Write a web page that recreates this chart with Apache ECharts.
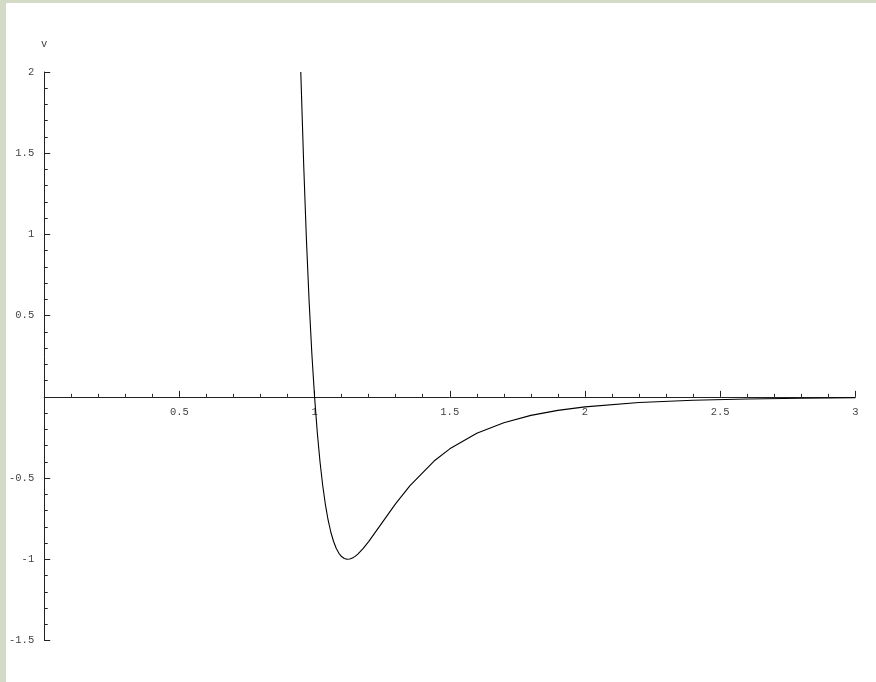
<!DOCTYPE html>
<html>
<head>
<meta charset="utf-8">
<script src="https://cdn.jsdelivr.net/npm/echarts@6/dist/echarts.min.js"></script>
<style>
  html, body { margin: 0; padding: 0; background: #d3dbc7; width: 876px; height: 682px; overflow: hidden; }
  #chart { position: absolute; left: 6px; top: 3px; width: 870px; height: 679px; background: #ffffff; }
</style>
</head>
<body>
<div id="chart"></div>
<script>
// Values
const rValues = [0.949, 0.96, 0.97, 0.98, 0.99, 1.0, 1.01, 1.02, 1.03, 1.04, 1.05, 1.06, 1.07, 1.08, 1.09, 1.10, 1.11, 1.12, 1.13, 1.14, 1.15, 1.16, 1.18, 1.20, 1.25, 1.30, 1.353, 1.442, 1.50, 1.60, 1.70, 1.80, 1.90, 2.0, 2.2, 2.4, 2.6, 2.8, 3.0];
const vValues = [2.0, 1.418, 0.963, 0.582, 0.264, 0.0, -0.218, -0.398, -0.544, -0.663, -0.758, -0.832, -0.889, -0.932, -0.963, -0.983, -0.995, -1.0, -0.998, -0.992, -0.982, -0.968, -0.933, -0.891, -0.774, -0.657, -0.546, -0.395, -0.320, -0.224, -0.159, -0.114, -0.083, -0.0615, -0.035, -0.021, -0.013, -0.0083, -0.0055];
const xTicks = [0.5, 1, 1.5, 2, 2.5, 3];
const yTicks = [-1.5, -1, -0.5, 0.5, 1, 1.5, 2];
const yName = 'v';

const yMin = -1.5, yMax = 2;
const gridH = 568.5;

const chart = echarts.init(document.getElementById('chart'), null, { renderer: 'canvas' });
const labelFont = { fontFamily: 'Liberation Mono', fontSize: 10.5, color: '#444' };
const axisLineStyle = { color: '#222', width: 1 };
const fmt = (list) => (v) => {
  const hit = list.find(t => Math.abs(t - v) < 1e-9);
  return hit === undefined ? '' : String(hit);
};

chart.setOption({
  animation: false,
  backgroundColor: '#ffffff',
  grid: { left: 36.7, top: 69, width: 812.6, height: gridH, containLabel: false },
  xAxis: {
    type: 'value', min: 0, max: 3, interval: 0.5,
    position: 'bottom',
    // place the axis on the y = 0 line
    offset: -gridH * (0 - yMin) / (yMax - yMin),
    axisLine: { show: true, onZero: false, lineStyle: axisLineStyle },
    axisTick: { show: true, inside: true, length: 6, lineStyle: { color: '#222' } },
    minorTick: { show: true, splitNumber: 5, length: 3, lineStyle: { color: '#222' } },
    splitLine: { show: false },
    axisLabel: Object.assign({ margin: 10, formatter: fmt(xTicks), showMinLabel: false }, labelFont)
  },
  yAxis: {
    type: 'value', min: yMin, max: yMax, interval: 0.5,
    name: yName, nameLocation: 'end', nameGap: 22,
    nameTextStyle: { fontFamily: 'Liberation Mono', fontSize: 10.5, color: '#444' },
    axisLine: { show: true, onZero: false, lineStyle: axisLineStyle },
    axisTick: { show: true, inside: true, length: 6, lineStyle: { color: '#222' } },
    minorTick: { show: true, splitNumber: 5, length: 3.5, lineStyle: { color: '#222' } },
    splitLine: { show: false },
    axisLabel: Object.assign({ margin: 10, formatter: fmt(yTicks) }, labelFont)
  },
  series: [{
    type: 'line',
    data: rValues.map((r, i) => [r, vValues[i]]),
    showSymbol: false,
    symbol: 'none',
    smooth: false,
    clip: true,
    lineStyle: { color: '#000', width: 1.1 }
  }]
});
</script>
</body>
</html>
